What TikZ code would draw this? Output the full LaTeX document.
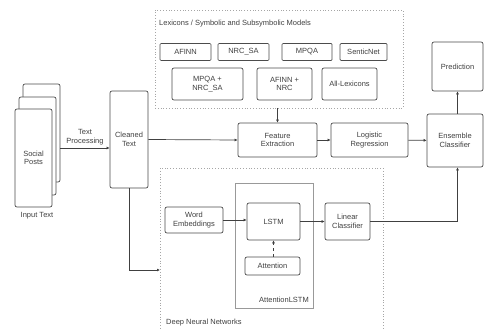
\documentclass[tikz,border=0pt]{standalone}
\usepackage{fontspec}
\setmainfont{Liberation Sans}
\usetikzlibrary{arrows.meta}
\begin{document}
\begin{tikzpicture}[x=1pt,y=-1pt,
  box/.style={draw=black!70, line width=0.7pt, rounded corners=2pt, fill=white, align=center, inner sep=0pt, text=black!75, font=\fontsize{7.5}{8.5}\selectfont},
  group/.style={draw=black!35, dotted, line width=0.8pt},
  lbl/.style={text=black!75, align=center, inner sep=0pt, font=\fontsize{7.5}{8.5}\selectfont},
  arr/.style={draw=black!75, line width=0.7pt, -{Latex[length=3pt,width=3pt]}}]
\useasboundingbox (0,0) rectangle (484,329);
\node[group, minimum width=248, minimum height=98] (lexbox) at (279,59) {};
\node[group, minimum width=223, minimum height=167] (dnnbox) at (271.5,251.5) {};
\node[lbl, anchor=west] (lextitle) at (159,24) {Lexicons / Symbolic and Subsymbolic Models};
\node[lbl, anchor=west] (dnntitle) at (166,323) {Deep Neural Networks};

\node[box, minimum width=37, minimum height=98] (posts3) at (41.5,133) {};
\node[box, minimum width=37, minimum height=98] (posts2) at (37.5,146) {};
\node[box, minimum width=37, minimum height=98] (posts) at (33.5,158) {Social\\Posts};
\node[lbl] (inputlbl) at (37,216) {Input Text};
\node[box, minimum width=38, minimum height=97] (cleaned) at (129,139.5) {Cleaned\\Text};
\coordinate (tp) at (60,148);
\draw[arr] (tp) -- (tp -| cleaned.west);
\node[lbl] (tplbl) at (85,137) {Text\\Processing};

\node[box, rounded corners=1pt, minimum width=51, minimum height=17] (afinn) at (185.5,52) {AFINN};
\node[box, rounded corners=1pt, minimum width=51, minimum height=17] (nrcsa) at (243.5,52) {NRC\_SA};
\node[box, rounded corners=1pt, minimum width=50, minimum height=17] (mpqa) at (307,52) {MPQA};
\node[box, rounded corners=1pt, minimum width=47, minimum height=17] (sentic) at (363.5,52) {SenticNet};
\node[box, minimum width=71, minimum height=32] (mpqanrc) at (207.5,84) {MPQA +\\NRC\_SA};
\node[box, minimum width=55, minimum height=32] (afinnnrc) at (284.5,84) {AFINN +\\NRC};
\node[box, minimum width=55, minimum height=32] (alllex) at (349.5,84) {All-Lexicons};

\node[box, minimum width=79, minimum height=34] (feat) at (277.5,140) {Feature\\Extraction};
\node[box, minimum width=77, minimum height=34] (logreg) at (369.5,140) {Logistic\\Regression};
\node[box, minimum width=56, minimum height=53] (ens) at (455,140.5) {Ensemble\\Classifier};
\node[box, minimum width=51, minimum height=49] (pred) at (457.5,66.5) {Prediction};

\node[draw=black!40, line width=0.7pt, minimum width=78, minimum height=125] (attlstm) at (274,245.5) {};
\node[lbl, anchor=east] (attlbl) at (309,300) {AttentionLSTM};
\node[box, minimum width=58, minimum height=26] (wordemb) at (194,220) {Word\\Embeddings};
\node[box, minimum width=53, minimum height=37] (lstm) at (273.5,221.5) {LSTM};
\node[box, minimum width=55, minimum height=18] (attn) at (272.5,266) {Attention};
\node[box, minimum width=45, minimum height=37] (linclf) at (347.5,221.5) {Linear\\Classifier};

\draw[arr] (cleaned.east) -- (feat.west);
\draw[arr] (lexbox.south -| feat.north) -- (feat.north);
\draw[arr] (feat) -- (logreg);
\draw[arr] (logreg) -- (ens);
\draw[arr] (pred.south |- ens.north) -- (pred.south);
\coordinate (dnnin) at (160,270);
\draw[arr] (cleaned.south) |- (dnnin);
\draw[arr] (wordemb.east) -- (wordemb.east -| lstm.west);
\draw[arr] (lstm) -- (linclf);
\draw[arr, dashed] (attn.north -| lstm) -- (lstm.south);
\coordinate (ensin) at (pred.south |- ens.south);
\draw[arr] (linclf.east) -| (ensin);
\end{tikzpicture}
\end{document}
